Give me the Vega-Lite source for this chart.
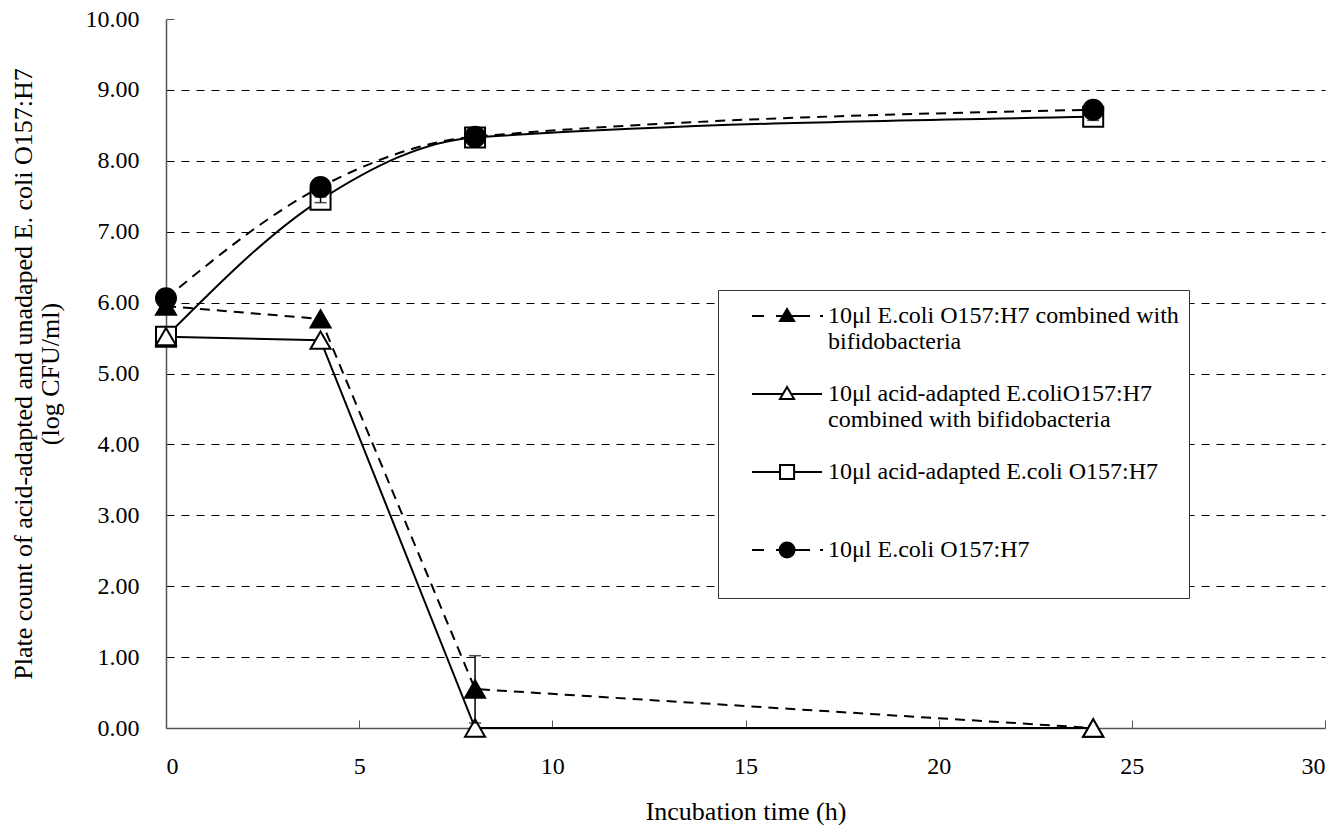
{
  "$schema": "https://vega.github.io/schema/vega-lite/v6.json",
  "width": 1159,
  "height": 709,
  "autosize": "none",
  "padding": {"left": 166, "top": 19, "right": 3, "bottom": 97},
  "background": "white",
  "config": {
    "view": {"stroke": null},
    "font": "Liberation Serif",
    "axis": {
      "labelFont": "Liberation Serif",
      "titleFont": "Liberation Serif",
      "labelFontSize": 24,
      "titleFontSize": 26,
      "titleFontWeight": "normal",
      "titleLineHeight": 27,
      "labelColor": "black",
      "titleColor": "black",
      "domainColor": "#555",
      "tickColor": "#555",
      "domainWidth": 1.5
    }
  },
  "datasets": {
    "pts": [
      {"series": "s3", "t": 0, "v": 5.52},
      {"series": "s3", "t": 4, "v": 7.45},
      {"series": "s3", "t": 8, "v": 8.33},
      {"series": "s3", "t": 24, "v": 8.62},
      {"series": "s1", "t": 0, "v": 5.95},
      {"series": "s1", "t": 4, "v": 5.77},
      {"series": "s1", "t": 8, "v": 0.55},
      {"series": "s1", "t": 24, "v": 0},
      {"series": "s2", "t": 0, "v": 5.52},
      {"series": "s2", "t": 4, "v": 5.47},
      {"series": "s2", "t": 8, "v": 0},
      {"series": "s2", "t": 24, "v": 0},
      {"series": "s4", "t": 0, "v": 6.06},
      {"series": "s4", "t": 4, "v": 7.63},
      {"series": "s4", "t": 8, "v": 8.34},
      {"series": "s4", "t": 24, "v": 8.72}
    ],
    "err": [
      {"series": "s1", "t": 8, "v": 0.07, "hi": 1.02},
      {"series": "s3", "t": 4, "v": 7.41, "hi": 7.49},
      {"series": "s3", "t": 24, "v": 8.57, "hi": 8.67}
    ]
  },
  "encoding": {
    "x": {
      "field": "t",
      "type": "quantitative",
      "scale": {"domain": [0, 30], "nice": false},
      "axis": {
        "values": [0, 5, 10, 15, 20, 25, 30],
        "grid": false,
        "tickSize": -8,
        "labelPadding": 34,
        "title": "Incubation time (h)",
        "titlePadding": 20
      }
    },
    "y": {
      "field": "v",
      "type": "quantitative",
      "scale": {"domain": [0, 10], "nice": false},
      "axis": {
        "values": [0, 1, 2, 3, 4, 5, 6, 7, 8, 9, 10],
        "format": ".2f",
        "grid": true,
        "gridDash": [8, 7],
        "gridColor": "black",
        "gridWidth": 1,
        "gridOpacity": {"condition": {"test": "datum.value == 0 || datum.value == 10", "value": 0}, "value": 1},
        "tickSize": -8,
        "tickOpacity": {"condition": {"test": "datum.value == 0 || datum.value == 10", "value": 1}, "value": 0},
        "labelPadding": 35,
        "title": ["Plate count of acid-adapted and unadaped E. coli  O157:H7", "(log CFU/ml)"],
        "titleLineHeight": 27,
        "titlePadding": 22
      }
    }
  },
  "layer": [
    {
      "data": {"name": "pts"},
      "mark": {"type": "point", "filled": false, "opacity": 0, "strokeWidth": 2},
      "encoding": {
        "shape": {
          "field": "series",
          "type": "nominal",
          "scale": {
            "domain": ["s1", "s2", "s3", "s4"],
            "range": [
              "M0.53,0H1.33M2.13,0H4.4M5.07,0H5.27M2.87,-0.47L3.34,0.33L2.4,0.33Z",
              "M0.53,0H2.594M3.146,0H5.2M2.87,-0.47L3.34,0.33L2.4,0.33Z",
              "M0.53,0H2.4M3.34,0H5.2M2.4,-0.47H3.34V0.47H2.4Z",
              "M0.53,0H1.33M2.13,0H4.4M5.07,0H5.27M3.37,0A0.5,0.5 0 1 1 2.37,0A0.5,0.5 0 1 1 3.37,0Z"
            ]
          },
          "legend": {
            "orient": "none",
            "direction": "vertical",
            "legendX": 552,
            "legendY": 271,
            "title": null,
            "padding": 10,
            "strokeColor": "#333",
            "fillColor": "white",
            "symbolSize": 900,
            "symbolOpacity": 1,
            "symbolStrokeWidth": 2,
            "symbolStrokeColor": "black",
            "labelFont": "Liberation Serif",
            "labelFontSize": 24,
            "labelColor": "black",
            "labelLimit": 500,
            "labelOffset": 68,
            "labelBaseline": "middle",
            "rowPadding": 24,
            "labelExpr": "datum.value=='s1' ? ['10μl E.coli O157:H7 combined with','bifidobacteria'] : datum.value=='s2' ? ['10μl acid-adapted E.coliO157:H7','combined with bifidobacteria'] : datum.value=='s3' ? ['10μl acid-adapted E.coli O157:H7',' '] : ['10μl E.coli O157:H7',' ']"
          }
        },
        "fill": {
          "field": "series",
          "type": "nominal",
          "scale": {"domain": ["s1", "s2", "s3", "s4"], "range": ["black", "white", "white", "black"]}
        },
        "stroke": {
          "field": "series",
          "type": "nominal",
          "scale": {"domain": ["s1", "s2", "s3", "s4"], "range": ["black", "black", "black", "black"]}
        }
      }
    },
    {
      "data": {"name": "pts"},
      "transform": [{"filter": "datum.series == 's1'"}],
      "mark": {"type": "line", "color": "black", "strokeWidth": 2, "strokeDash": [10, 7], "interpolate": "linear"}
    },
    {
      "data": {"name": "pts"},
      "transform": [{"filter": "datum.series == 's2'"}],
      "mark": {"type": "line", "color": "black", "strokeWidth": 2, "interpolate": "linear"}
    },
    {
      "data": {"name": "pts"},
      "transform": [{"filter": "datum.series == 's3'"}],
      "mark": {"type": "line", "color": "black", "strokeWidth": 2, "interpolate": "monotone"}
    },
    {
      "data": {"name": "pts"},
      "transform": [{"filter": "datum.series == 's4'"}],
      "mark": {"type": "line", "color": "black", "strokeWidth": 2, "strokeDash": [10, 7], "interpolate": "monotone"}
    },
    {
      "data": {"name": "pts"},
      "transform": [{"filter": "datum.series == 's3'"}],
      "mark": {"type": "point", "shape": "square", "filled": true, "fill": "white", "stroke": "black", "strokeWidth": 2, "size": 400, "opacity": 1}
    },
    {
      "data": {"name": "pts"},
      "transform": [{"filter": "datum.series == 's1'"}],
      "mark": {"type": "point", "shape": "triangle-up", "filled": true, "fill": "black", "stroke": "black", "strokeWidth": 2, "size": 400, "opacity": 1}
    },
    {
      "data": {"name": "pts"},
      "transform": [{"filter": "datum.series == 's2'"}],
      "mark": {"type": "point", "shape": "triangle-up", "filled": true, "fill": "white", "stroke": "black", "strokeWidth": 2, "size": 400, "opacity": 1}
    },
    {
      "data": {"name": "pts"},
      "transform": [{"filter": "datum.series == 's4'"}],
      "mark": {"type": "point", "shape": "circle", "filled": true, "fill": "black", "stroke": "black", "strokeWidth": 2, "size": 400, "opacity": 1}
    },
    {
      "data": {"name": "err"},
      "mark": {"type": "rule", "color": "black", "strokeWidth": 1.5},
      "encoding": {
        "y2": {"field": "hi"}
      }
    },
    {
      "data": {"name": "err"},
      "mark": {"type": "tick", "color": "black", "orient": "horizontal", "size": 12, "thickness": 1.5},
      "encoding": {
        "y": {"field": "hi", "type": "quantitative"}
      }
    },
    {
      "data": {"name": "err"},
      "mark": {"type": "tick", "color": "black", "orient": "horizontal", "size": 12, "thickness": 1.5}
    }
  ]
}
